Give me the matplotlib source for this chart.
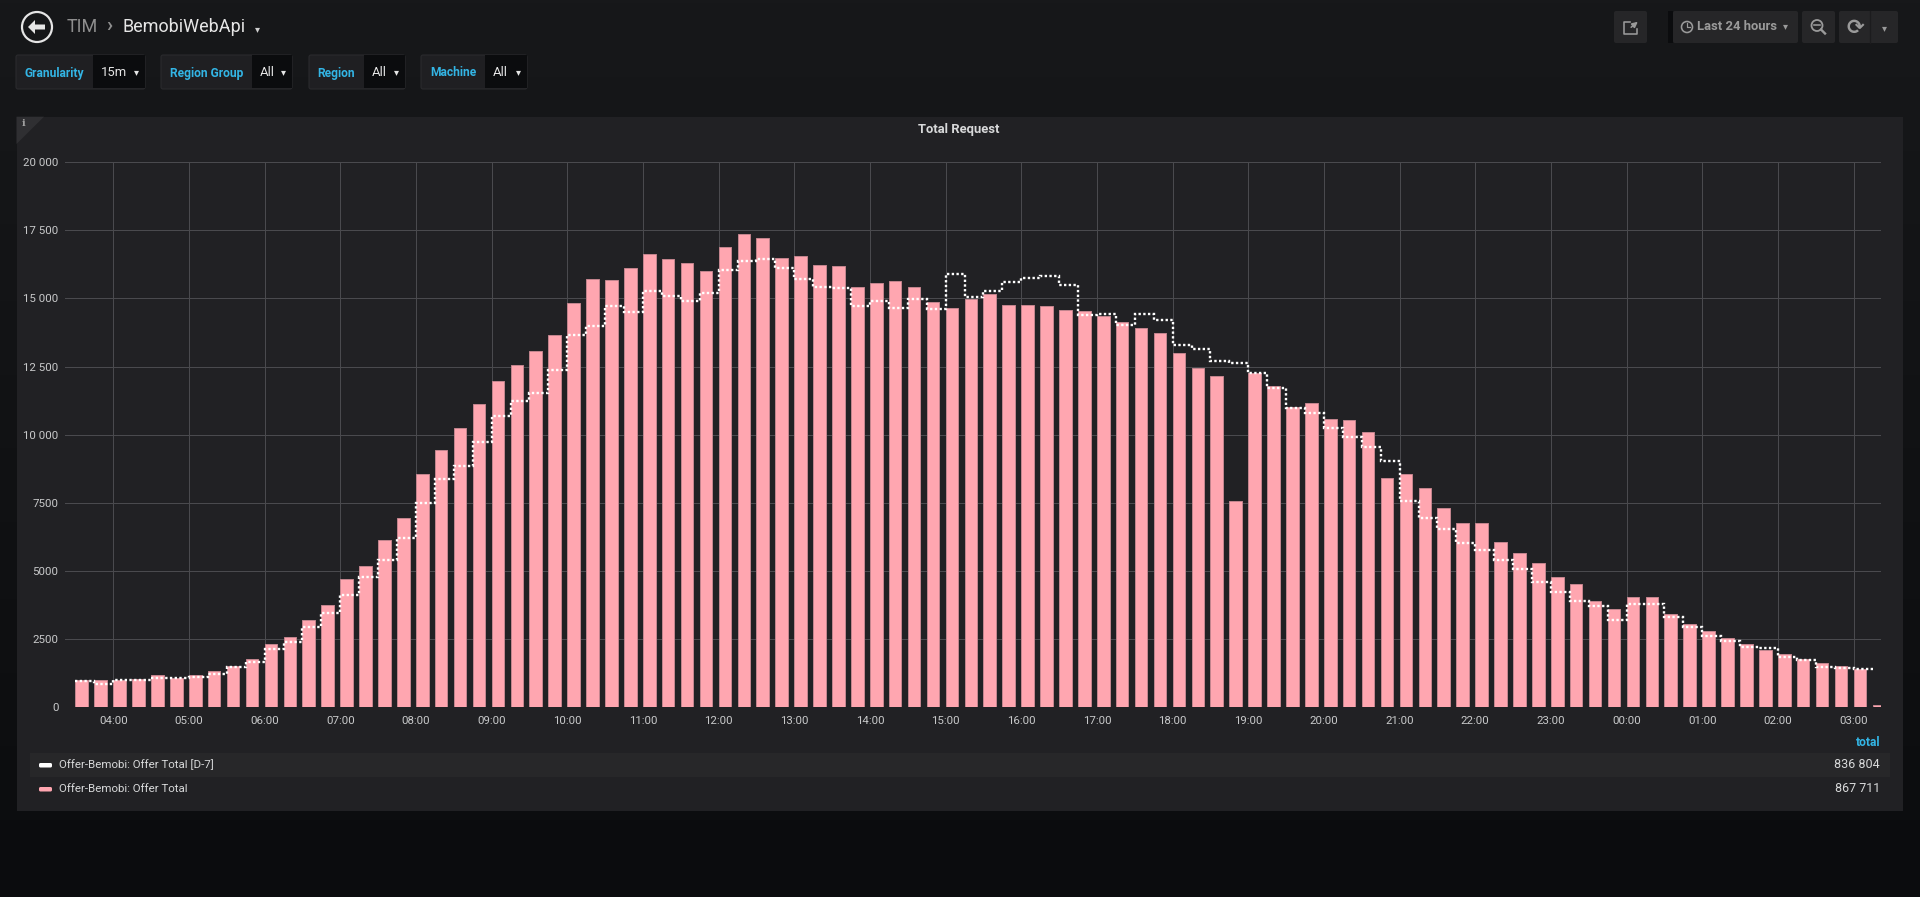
import matplotlib
matplotlib.use('Agg')
import matplotlib.pyplot as plt
import matplotlib.dates as mdates
import matplotlib.patches as mpatches
import numpy as np
import pandas as pd

plt.rcParams['font.family'] = ['Roboto', 'DejaVu Sans']

# ---------------- data ----------------
bucket_start = '2019-03-11 03:30'
bucket_freq = '15min'

# Offer-Bemobi: Offer Total (bars), 15 min buckets from 03:30 to 03:15 next day
offer_total = [
    1000, 1000, 1000, 1043, 1172, 1086, 1186, 1343, 1529, 1758,
    2329, 2572, 3187, 3744, 4701, 5173, 6130, 6959, 8545, 9431, 10231, 11146,
    11989, 12561, 13090, 13647, 14847, 15719, 15676, 16105, 16648, 16448, 16305, 16005,
    16876, 17348, 17219, 16476, 16576, 16219, 16190, 15419, 15562, 15633, 15419, 14862,
    14633, 14970, 15162, 14762, 14747, 14719, 14562, 14547, 14347, 14147, 13904, 13718,
    12990, 12432, 12146, 7559, 12275, 11775, 11018, 11161, 10589, 10546, 10117, 8417,
    8545, 8045, 7302, 6745, 6773, 6073, 5659, 5287, 4773, 4516, 3915, 3615,
    4030, 4044, 3430, 3044, 2787, 2529, 2315, 2086, 1958, 1758, 1615, 1500, 1400, 100,
]

# Offer-Bemobi: Offer Total [D-7] (dotted staircase), 03:30 to 03:00 next day
offer_total_d7 = [
    957, 857, 986, 1014, 1071, 1071, 1129, 1229, 1472, 1672,
    2129, 2400, 2943, 3458, 4115, 4787, 5401, 6202, 7502, 8388, 8845, 9746,
    10689, 11232, 11532, 12375, 13676, 13990, 14719, 14504, 15290, 15076, 14919, 15205,
    16048, 16376, 16462, 16133, 15705, 15405, 15376, 14719, 14919, 14633, 14976, 14605,
    15891, 15062, 15290, 15605, 15762, 15819, 15490, 14376, 14447, 14033, 14419, 14204,
    13276, 13161, 12718, 12646, 12261, 11732, 10989, 10803, 10232, 9932, 9560, 9046,
    7559, 6959, 6545, 6045, 5773, 5416, 5087, 4601, 4230, 3887, 3715, 3201,
    3801, 3787, 3301, 2929, 2601, 2415, 2201, 2172, 1858, 1729, 1472, 1429, 1400,
]

y_ticks = [0, 2500, 5000, 7500, 10000, 12500, 15000, 17500, 20000]
y_tick_labels = ['0', '2500', '5000', '7500', '10 000', '12 500', '15 000', '17 500', '20 000']
x_first_tick = '2019-03-11 04:00'
x_tick_count = 24
x_range_start = '2019-03-11 03:21:30'
x_range_end = '2019-03-12 03:21:30'

legend_names = ['Offer-Bemobi: Offer Total [D-7]', 'Offer-Bemobi: Offer Total']
legend_totals = ['836 804', '867 711']
panel_title = 'Total Request'
variables = [('Granularity', '15m'), ('Region Group', 'All'), ('Region', 'All'), ('Machine', 'All')]

# ---------------- figure ----------------
W, H = 1920, 897
fig = plt.figure(figsize=(W / 100, H / 100), dpi=100)
PT = 0.72  # points per pixel

bg = fig.add_axes([0, 0, 1, 1], zorder=0)
bg.set_xlim(0, W)
bg.set_ylim(H, 0)
bg.axis('off')

# page gradient
top = np.array([0x17, 0x18, 0x1a]) / 255
bot = np.array([0x0b, 0x0c, 0x0e]) / 255
t = np.linspace(0, 1, 256)[:, None]
grad = (top[None, :] * (1 - t) + bot[None, :] * t)[:, None, :]
bg.imshow(grad, extent=[0, W, H, 0], aspect='auto', zorder=0)

# ---- header ----
bg.add_patch(mpatches.Circle((37, 27), 15, fill=False, ec='#e6e6e6', lw=2.2 * PT, zorder=2))
bg.add_patch(mpatches.Polygon([(28, 27), (35, 20), (35, 24.5), (45, 24.5), (45, 29.5), (35, 29.5), (35, 34)],
                              closed=True, fc='#e6e6e6', ec='none', zorder=2))
bg.text(67, 27, 'TIM', color='#8e8e8e', fontsize=18 * PT, va='center', ha='left', zorder=2)
bg.text(106, 26, '›', color='#8e8e8e', fontsize=20 * PT, va='center', ha='left', fontweight='bold', zorder=2)
bg.text(123, 27, 'BemobiWebApi', color='#e6e6e6', fontsize=18 * PT, va='center', ha='left', zorder=2)
bg.text(257, 29, '▾', color='#cfcfcf', fontsize=10 * PT, va='center', ha='center', zorder=2)

# variable selectors
var_boxes = [(16, 93, 145), (161, 252, 292), (309, 364, 405), (421, 485, 527)]
for (lab, val), (x0, x1, x2) in zip(variables, var_boxes):
    bg.add_patch(mpatches.FancyBboxPatch((x0, 55), x2 - x0, 34, boxstyle='round,pad=0,rounding_size=2',
                                         fc='#1f1f22', ec='#2a2a2d', lw=0.8, zorder=2))
    bg.add_patch(mpatches.Rectangle((x1, 55.5), x2 - x1 - 0.5, 33, fc='#0b0c0e', ec='none', zorder=3))
    bg.text((x0 + x1) / 2, 73, lab, color='#33b5e5', fontsize=12 * PT, fontweight='bold',
            ha='center', va='center', zorder=4)
    bg.text(x1 + 8, 73, val, color='#e6e6e6', fontsize=13 * PT, ha='left', va='center', zorder=4)
    bg.text(x2 - 9, 72.5, '▾', color='#e6e6e6', fontsize=10 * PT, ha='center', va='center', zorder=4)

# top-right buttons
btn_fc = '#262628'
icon_c = '#9a9a9a'
for (bx0, bx1) in [(1614, 1647), (1673, 1798), (1802, 1835), (1839, 1898)]:
    bg.add_patch(mpatches.FancyBboxPatch((bx0, 11), bx1 - bx0, 32, boxstyle='round,pad=0,rounding_size=2',
                                         fc=btn_fc, ec='none', zorder=2))
bg.add_patch(mpatches.Rectangle((1668, 11), 5, 32, fc='#0b0c0e', ec='none', zorder=2))
bg.plot([1870, 1870], [11, 43], color='#1c1c1e', lw=1, zorder=3)
# share icon
bg.plot([1630, 1624, 1624, 1637, 1637], [22, 22, 34, 34, 29], color=icon_c, lw=1.6 * PT, zorder=3)
bg.annotate('', xy=(1640, 20), xytext=(1629, 29),
            arrowprops=dict(arrowstyle='-|>', color=icon_c, lw=1.6 * PT, mutation_scale=8), zorder=3)
# time picker
bg.add_patch(mpatches.Circle((1687, 27), 5.5, fill=False, ec=icon_c, lw=1.6 * PT, zorder=3))
bg.plot([1687, 1687, 1690], [23.5, 27.5, 27.5], color=icon_c, lw=1.2 * PT, zorder=3)
bg.text(1697, 27, 'Last 24 hours', color=icon_c, fontsize=13 * PT, fontweight='bold', ha='left', va='center',
        zorder=3)
bg.text(1785, 26, '▾', color=icon_c, fontsize=10 * PT, ha='center', va='center', zorder=3)
# zoom out
bg.add_patch(mpatches.Circle((1817, 25.5), 5.5, fill=False, ec=icon_c, lw=1.8 * PT, zorder=3))
bg.plot([1814, 1820], [25.5, 25.5], color=icon_c, lw=1.6 * PT, zorder=3)
bg.plot([1821, 1825], [29.5, 33.5], color=icon_c, lw=2.4 * PT, zorder=3)
# refresh
bg.text(1855, 27.5, '⟳', color=icon_c, fontsize=21 * PT, fontweight='bold', ha='center', va='center',
        family=['DejaVu Sans'], zorder=3)
bg.text(1884, 28, '▾', color=icon_c, fontsize=10 * PT, ha='center', va='center', zorder=3)

# ---- panel ----
bg.add_patch(mpatches.Rectangle((16.5, 116.7), 1903 - 16.5, 811 - 116.7, fc='#212124', ec='none', zorder=1))
bg.add_patch(mpatches.Polygon([(16.5, 116.7), (44, 116.7), (16.5, 144)], closed=True, fc='#2f2f32',
                              ec='none', zorder=2))
bg.text(24, 124, 'i', color='#a0a0a0', fontsize=10 * PT, fontweight='bold', ha='center', va='center',
        family=['DejaVu Serif'], zorder=3)
bg.text(959, 130, panel_title, color='#d8d9da', fontsize=13 * PT, fontweight='bold', ha='center',
        va='center', zorder=3)

# legend
bg.text(1880, 742, 'total', color='#33b5e5', fontsize=12 * PT, fontweight='bold', ha='right', va='center',
        zorder=3)
bg.add_patch(mpatches.Rectangle((29.5, 752.7), 1890 - 29.5, 777 - 752.7, fc='#272729', ec='none', zorder=2))
legend_colors = ['#ffffff', '#ffa6b0']
for i, (name, tot, col) in enumerate(zip(legend_names, legend_totals, legend_colors)):
    yy = 765 + i * 24
    bg.add_patch(mpatches.FancyBboxPatch((39, yy - 2), 13, 4.5, boxstyle='round,pad=0,rounding_size=1.5',
                                         fc=col, ec='none', zorder=3))
    bg.text(59, yy - 0.5, name, color='#d8d9da', fontsize=11.5 * PT, ha='left', va='center', zorder=3)
    bg.text(1880, yy - 0.5, tot, color='#d8d9da', fontsize=12.5 * PT, ha='right', va='center', zorder=3)

# ---- main chart ----
x0p, x1p, y0p, y1p = 64.7, 1880.7, 162.2, 707.3
ax = fig.add_axes([x0p / W, 1 - y1p / H, (x1p - x0p) / W, (y1p - y0p) / H], zorder=5)
ax.set_facecolor('none')

times = pd.date_range(bucket_start, periods=len(offer_total), freq=bucket_freq)
tnum = mdates.date2num(times.to_pydatetime())
bar_width = (tnum[1] - tnum[0]) / 1.5

ax.bar(tnum, offer_total, width=bar_width, align='edge', color='#ffa6b0', edgecolor='#c4868f',
       linewidth=0.7, zorder=2)
d7_edges = tnum[:len(offer_total_d7) + 1]
ax.stairs(offer_total_d7, d7_edges, baseline=None, color='white', linestyle=(0, (1.0, 1.0)),
          linewidth=1.7, zorder=3)

xt = pd.date_range(x_first_tick, periods=x_tick_count, freq='h')
ax.set_xticks(mdates.date2num(xt.to_pydatetime()))
ax.set_xticklabels([d.strftime('%H:%M') for d in xt])
ax.set_yticks(y_ticks)
ax.set_yticklabels(y_tick_labels)
ax.set_xlim(mdates.date2num(pd.Timestamp(x_range_start).to_pydatetime()),
            mdates.date2num(pd.Timestamp(x_range_end).to_pydatetime()))
ax.set_ylim(0, 20000)

ax.grid(True, color='#4a4a4e', linewidth=0.75, zorder=0)
ax.set_axisbelow(True)
for s in ax.spines.values():
    s.set_visible(False)
ax.tick_params(axis='both', length=0, labelcolor='#c8c9ca', labelsize=11.5 * PT)
ax.tick_params(axis='x', pad=6)
ax.tick_params(axis='y', pad=4.5)

fig.savefig('out.png', dpi=100, facecolor=fig.get_facecolor())
